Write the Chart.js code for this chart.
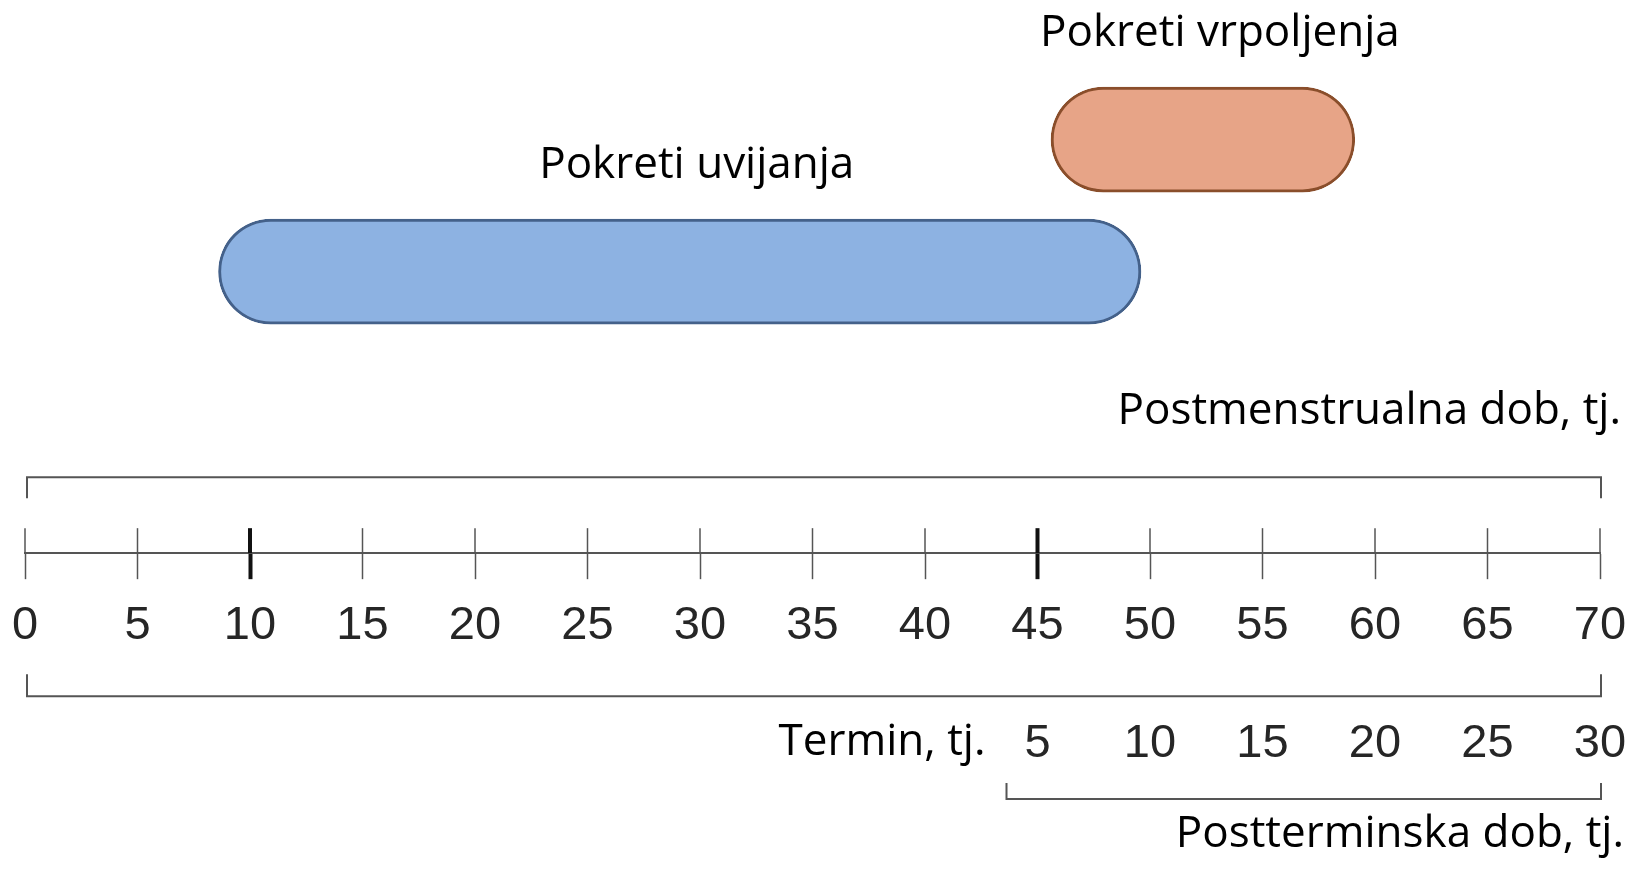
<!DOCTYPE html>
<html>
  <head>
    <title>Pokreti</title>
    <style>
      body { margin: 0; background: #fff; }
      #wrap { width: 1632px; height: 883px; }
    </style>
  </head>
  <body>
    <div id="wrap">
      <canvas id="canvas"></canvas>
    </div>
    <script src="https://cdn.jsdelivr.net/npm/chart.js@4.4.1/dist/chart.umd.min.js"></script>
    <script>
      // movement types (rows, top to bottom) and their span in postmenstrual weeks
      const movements = ["Pokreti vrpoljenja", "Pokreti uvijanja"];
      const startWeek = [45.6, 8.6];
      const endWeek = [59.1, 49.6];
      const fills = ["#e7a487", "#8db2e2"];
      const borders = ["#8a4e2b", "#44618a"];

      // axis ranges
      const pmaMin = 0, pmaMax = 70, step = 5;
      const termWeek = 40; // postterm week 0 = postmenstrual week 40
      const boldTicks = [10, 45];

      const axisTitle = "Postmenstrualna dob, tj.";
      const termLabel = "Termin, tj.";
      const posttermTitle = "Postterminska dob, tj.";

      const numFont = "'Liberation Sans', Arial, sans-serif";
      const textFont = "'Open Sans', sans-serif";
      const lineCol = "#555";
      const noSidePadding = (s) => { s.paddingLeft = 0; s.paddingRight = 0; };

      const labelsPlugin = {
        id: "labels",
        afterDatasetsDraw(chart) {
          const ctx = chart.ctx;
          const meta = chart.getDatasetMeta(0);
          ctx.save();
          ctx.font = "44px " + textFont;
          ctx.fillStyle = "#000";
          ctx.textAlign = "center";
          ctx.textBaseline = "middle";
          meta.data.forEach((bar, i) => {
            const p = bar.getProps(["x", "y", "base", "height"], true);
            ctx.fillText(movements[i], (p.x + p.base) / 2 + 17, p.y - p.height / 2 - 54);
          });
          ctx.restore();
        }
      };

      const rulerPlugin = {
        id: "ruler",
        afterDraw(chart) {
          const ctx = chart.ctx;
          const sx = chart.scales.x;
          const st = chart.scales.xt;
          const axisY = sx.top;
          const x0 = sx.getPixelForValue(pmaMin) + 2;
          const x1 = sx.getPixelForValue(pmaMax) + 1;
          ctx.save();

          // upper half of the tick marks
          sx.ticks.forEach((t) => {
            const px = sx.getPixelForValue(t.value);
            const bold = boldTicks.includes(t.value);
            ctx.lineWidth = bold ? 4 : 1.5;
            ctx.strokeStyle = bold ? "#111" : lineCol;
            ctx.beginPath();
            ctx.moveTo(px, axisY - 25);
            ctx.lineTo(px, axisY);
            ctx.stroke();
          });

          ctx.strokeStyle = lineCol;
          ctx.lineWidth = 2;
          // bracket above the axis
          ctx.beginPath();
          ctx.moveTo(x0, axisY - 55);
          ctx.lineTo(x0, axisY - 76);
          ctx.lineTo(x1, axisY - 76);
          ctx.lineTo(x1, axisY - 55);
          ctx.stroke();
          // bracket below the labels
          ctx.beginPath();
          ctx.moveTo(x0, axisY + 121);
          ctx.lineTo(x0, axisY + 143);
          ctx.lineTo(x1, axisY + 143);
          ctx.lineTo(x1, axisY + 121);
          ctx.stroke();
          // bracket under postterm labels
          const bx0 = st.getPixelForValue(step) - 31;
          const by = 799;
          ctx.beginPath();
          ctx.moveTo(bx0, by - 16);
          ctx.lineTo(bx0, by);
          ctx.lineTo(x1, by);
          ctx.lineTo(x1, by - 16);
          ctx.stroke();

          ctx.fillStyle = "#000";
          ctx.font = "44px " + textFont;
          ctx.textBaseline = "middle";
          ctx.textAlign = "right";
          ctx.fillText(axisTitle, 1621, 411);
          ctx.fillText(termLabel, st.getPixelForValue(step) - 52, 742);
          ctx.fillText(posttermTitle, 1624, 834);
          ctx.restore();
        }
      };

      new Chart(document.getElementById("canvas"), {
        type: "bar",
        data: {
          labels: movements,
          datasets: [
            {
              data: movements.map((m, i) => ({ x: [startWeek[i], endWeek[i]], y: i })),
              backgroundColor: fills,
              borderColor: borders,
              borderWidth: 3,
              borderSkipped: false,
              borderRadius: 60,
              barThickness: 105
            }
          ]
        },
        options: {
          indexAxis: "y",
          responsive: true,
          maintainAspectRatio: false,
          animation: false,
          layout: { padding: { left: 25, right: 32, top: 0, bottom: 69 } },
          plugins: {
            legend: { display: false },
            tooltip: { enabled: false }
          },
          scales: {
            y: {
              type: "linear",
              display: false,
              offset: false,
              reverse: true,
              min: -1.057,
              max: 3.133
            },
            x: {
              type: "linear",
              position: "bottom",
              weight: 0,
              min: pmaMin,
              max: pmaMax,
              afterFit: noSidePadding,
              border: { display: true, color: lineCol, width: 2 },
              grid: {
                display: true,
                drawOnChartArea: false,
                drawTicks: true,
                tickLength: 26,
                tickWidth: (c) => (c.tick && boldTicks.includes(c.tick.value) ? 4 : 1.5),
                tickColor: (c) => (c.tick && boldTicks.includes(c.tick.value) ? "#111" : lineCol)
              },
              ticks: {
                stepSize: step,
                autoSkip: false,
                maxRotation: 0,
                padding: 16,
                color: "#262626",
                font: { family: numFont, size: 47, lineHeight: 1.328 }
              }
            },
            xt: {
              axis: "x",
              type: "linear",
              position: "bottom",
              weight: 1,
              min: pmaMin - termWeek,
              max: pmaMax - termWeek,
              afterFit: noSidePadding,
              border: { display: false },
              grid: { display: false, drawTicks: false },
              ticks: {
                stepSize: step,
                autoSkip: false,
                maxRotation: 0,
                padding: 39,
                color: "#262626",
                font: { family: numFont, size: 47, lineHeight: 1.328 },
                callback: (v) => (v >= step ? v : "")
              }
            }
          }
        },
        plugins: [labelsPlugin, rulerPlugin]
      });
    </script>
  </body>
</html>
